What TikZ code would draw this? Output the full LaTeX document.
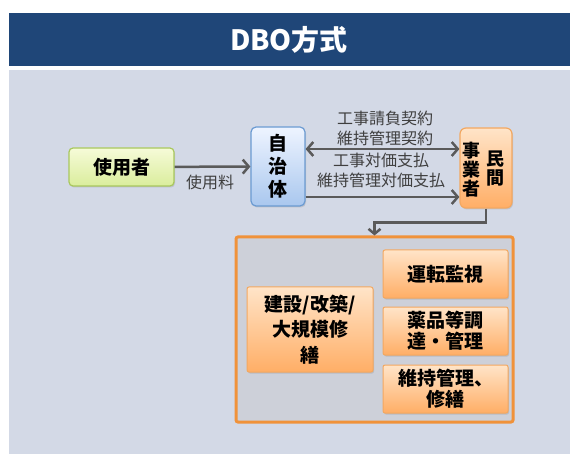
\documentclass[tikz,border=0pt]{standalone}
\usepackage{fontspec}
\setmainfont{Noto Sans CJK JP}
\usetikzlibrary{arrows.meta,shadows,calc}
\definecolor{hdr}{HTML}{1F4678}
\definecolor{bg}{HTML}{D3D9E6}
\definecolor{contfill}{HTML}{CDD0D9}
\definecolor{orng}{HTML}{F0923A}
\definecolor{orngtop}{HTML}{FFE4C8}
\definecolor{orngbot}{HTML}{FFAE66}
\definecolor{grntop}{HTML}{F6FBD8}
\definecolor{grnbot}{HTML}{DAED9C}
\definecolor{grnline}{HTML}{A9C85E}
\definecolor{blutop}{HTML}{EEF4FF}
\definecolor{blubot}{HTML}{A9C7EE}
\definecolor{bluline}{HTML}{6B9BD2}
\definecolor{arrcol}{HTML}{5A5A5A}
\definecolor{lblcol}{HTML}{3F3F3F}
\tikzset{
  shad/.style={drop shadow={opacity=0.25,shadow xshift=1pt,shadow yshift=-1.5pt}},
  gbox/.style={shad,draw=grnline,line width=1.2pt,rounded corners=4pt,top color=grntop,bottom color=grnbot,inner sep=0pt,align=center,font=\fontsize{19}{20}\selectfont\bfseries},
  bbox/.style={shad,draw=bluline,line width=1.2pt,rounded corners=5pt,top color=blutop,bottom color=blubot,inner sep=0pt,align=center,font=\fontsize{19}{23}\selectfont\bfseries},
  obox/.style={shad,draw=orng!80,line width=1pt,rounded corners=2pt,top color=orngtop,bottom color=orngbot,inner sep=0pt,align=center,font=\fontsize{19}{21}\selectfont\bfseries},
  pbox/.style={shad,draw=orng!80,line width=1.2pt,rounded corners=6pt,top color=orngtop,bottom color=orngbot,inner sep=0pt},
  ptext/.style={align=center,inner sep=0pt,font=\fontsize{18}{19}\selectfont\bfseries},
  lbl/.style={align=center,inner sep=0pt,text=lblcol,font=\fontsize{16}{20}\selectfont},
  arr/.style={draw=arrcol,line width=2.5pt,-{Straight Barb[length=6pt,width=14pt]}},
  arrboth/.style={draw=arrcol,line width=2.5pt,{Straight Barb[length=6pt,width=14pt]}-{Straight Barb[length=6pt,width=14pt]}},
  elbow/.style={draw=arrcol,line width=2.5pt,-{Straight Barb[length=5pt,width=12pt]}},
}
\begin{document}
\begin{tikzpicture}[x=1pt,y=-1pt]
\useasboundingbox (0,0) rectangle (570,454);
\fill[white] (0,0) rectangle (570,454);
\fill[hdr] (9,13) rectangle (570,66);
\fill[bg] (9,70) rectangle (570,454);
\node[text=white,font=\fontsize{28}{30}\selectfont\bfseries] (title) at (289,40) {DBO方式};

\node[gbox,minimum width=105pt,minimum height=38pt] (user) at (121.5,167) {使用者};
\node[bbox,minimum width=54pt,minimum height=79pt] (city) at (278,166.5) {自\\治\\体};
\node[pbox,minimum width=52pt,minimum height=80pt] (priv) at (486,168) {};
\node[ptext] (privL) at (471,170) {事\\業\\者};
\node[ptext] (privR) at (495,169) {民\\間};

\coordinate (ya) at (0,149);
\coordinate (yb) at (0,197);
\draw[arr] (user) -- (city);
\draw[arrboth] (city.east |- ya) -- (priv.west |- ya);
\draw[arr] (city.east |- yb) -- (priv.west |- yb);

\node[lbl] (fee) at (210,182) {使用料};
\node[lbl] (contract) at (385,128) {工事請負契約\\維持管理契約};
\node[lbl] (pay) at (381,170.5) {工事対価支払\\維持管理対価支払};

\node[draw=orng,line width=3pt,fill=contfill,rounded corners=2pt,minimum width=277pt,minimum height=185pt,inner sep=0pt] (cont) at (374.5,329.5) {};
\draw[elbow] (priv.south) -- ++(0,14) -| (cont.north);

\node[obox,minimum width=126pt,minimum height=85pt,font=\fontsize{19}{25.5}\selectfont\bfseries] (build) at (310,329.5) {建設/改築/\\大規模修\\繕};
\node[obox,minimum width=125pt,minimum height=48pt] (op) at (445.5,274) {運転監視};
\node[obox,minimum width=125pt,minimum height=48pt] (chem) at (445.5,331) {薬品等調\\達・管理};
\node[obox,minimum width=125pt,minimum height=48pt] (maint) at (445.5,389) {維持管理、\\修繕};
\end{tikzpicture}
\end{document}
